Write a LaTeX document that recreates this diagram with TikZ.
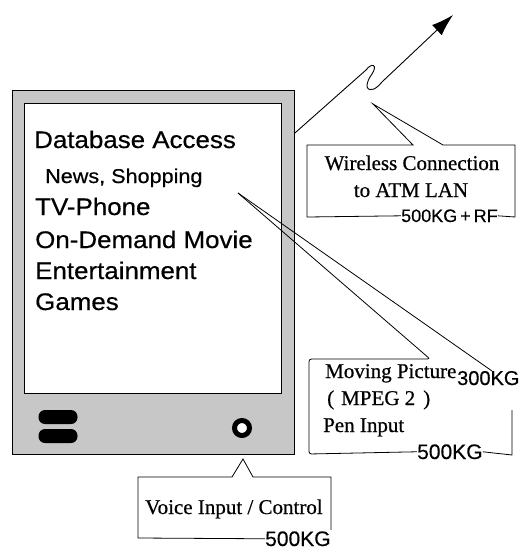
\documentclass[tikz,border=0pt]{standalone}
\usepackage{fontspec}
\setmainfont[FakeBold=0.6]{Liberation Serif}
\newfontfamily\scanserif[FakeBold=0.6]{Liberation Serif}
\newfontfamily\screenfont[FakeStretch=1.08,FakeBold=0.5]{Liberation Sans}
\newfontfamily\kgfont[FakeBold=0.4]{Liberation Sans}
\usetikzlibrary{arrows.meta}

\tikzset{
  outline/.style={draw=black,line width=0.9pt},
  callout/.style={draw=black,line width=0.8pt},
  bigtext/.style={anchor=base west,inner sep=0pt,font=\screenfont\fontsize{24}{28}\selectfont},
  subtext/.style={anchor=base west,inner sep=0pt,font=\screenfont\fontsize{20}{24}\selectfont},
  serif/.style={inner sep=0pt,font=\scanserif\fontsize{21}{25}\selectfont},
  kg/.style={anchor=base west,inner sep=0pt,font=\kgfont\fontsize{21}{25}\selectfont},
  pill/.style={fill=black,rounded corners=6.5pt,minimum width=39pt,minimum height=14pt,inner sep=0pt}
}

\begin{document}
\begin{tikzpicture}[x=1pt,y=-1pt]
\useasboundingbox (0,0) rectangle (525,550);

% terminal housing and screen
\node[outline,fill=black!22,anchor=north west,minimum width=282pt,minimum height=364pt,inner sep=0pt] (housing) at (12,90) {};
\node[draw=black,line width=1.1pt,fill=white,anchor=north west,minimum width=257pt,minimum height=290pt,inner sep=0pt] (screen) at (24,103) {};

% speaker slots and microphone
\node[pill] (slotA) at (58,417) {};
\node[pill] (slotB) at (58,436) {};
\node[circle,draw=black,line width=5pt,fill=white,minimum size=15pt,inner sep=0pt] (mic) at (242,428) {};

% screen contents
\node[bigtext] (db) at (34,148) {Database Access};
\node[subtext] (news) at (45,183) {News, Shopping};
\node[bigtext] (tv) at (35,215) {TV-Phone};
\node[bigtext] (vod) at (35,248) {On-Demand Movie};
\node[bigtext] (ent) at (35,279) {Entertainment};
\node[bigtext] (games) at (35,310) {Games};

% antenna
\path (housing.north east) ++(0,43) coordinate (antbase);
\coordinate (anttip) at (453,15);
\draw[line width=0.9pt,-{Latex[length=22pt,width=14pt]}] (antbase) -- (366,70)
  .. controls (372,62) and (378,65) .. (372,74)
  .. controls (366,82) and (364,92) .. (374,89)
  .. controls (378,87) and (380,84) .. (383,81) -- (anttip);

% wireless callout
\node[serif,anchor=base] (wl1) at (412,170) {Wireless Connection};
\node[serif,anchor=base] (wl2) at (411,197) {to ATM LAN};
\node[anchor=base west,inner sep=0pt,font=\kgfont\fontsize{18}{22}\selectfont] (wl3) at (401,222) {500KG{\,}+{\,}RF};
\coordinate (wlapex) at (373,104);
\draw[callout] (wl3.west) -- (307,217) -- (307,145) -- (413,145) -- (wlapex) -- (443,145)
  -- (515,145) -- (515,217) -- (wl3.east);

% video / pen callout
\node[serif,anchor=base west] (mp1) at (325,378) {Moving Picture};
\node[serif,anchor=base west] (mp2) at (327,405) {(\hspace{7pt}MPEG 2\hspace{8pt})};
\node[serif,anchor=base west] (mp3) at (323,432) {Pen Input};
\node[kg,font=\kgfont\fontsize{20}{24}\selectfont] (mp300) at (457,385) {300KG};
\node[kg] (mp500) at (417,459) {500KG};
\coordinate (mpapex) at (238,193);
\draw[callout,rounded corners=2.5pt] (mpapex) -- (430,359) -- (309,359) -- (309,454) -- (mp500.west);
\draw[callout] (mpapex) -- (492,371);
\draw[callout] (mp500.east) -- (512,455) -- (512,410);

% voice callout
\node[serif,anchor=base west] (vc1) at (145,514) {Voice Input / Control};
\node[kg] (vc500) at (265,546) {500KG};
\coordinate (vcapex) at (243,459);
\draw[callout] (vc500.west) -- (138,538) -- (138,477) -- (232,477) -- (vcapex) -- (253,477)
  -- (331,477) -- (331,530);
\end{tikzpicture}
\end{document}
